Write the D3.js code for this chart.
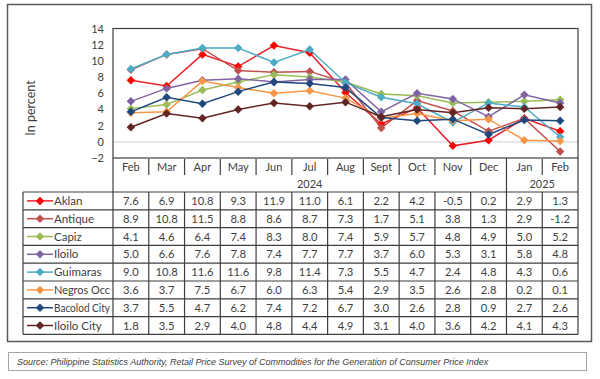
<!DOCTYPE html>
<html><head><meta charset="utf-8">
<script src="https://cdn.jsdelivr.net/npm/d3@7"></script>
<style>
html,body{margin:0;padding:0;background:#fff;}
svg{display:block;}
text{font-family:Lato,"Open Sans",sans-serif;fill:#404040;}
</style></head>
<body><svg id="c" width="600" height="379"></svg>
<script>
const months = ["Feb","Mar","Apr","May","Jun","Jul","Aug","Sept","Oct","Nov","Dec","Jan","Feb"];
const years = [{label:"2024", from:0, to:11},{label:"2025", from:11, to:13}];
const seriesNames = ["Aklan","Antique","Capiz","Iloilo","Guimaras","Negros Occ","Bacolod City","Iloilo City"];
const aklan      = [7.6,6.9,10.8,9.3,11.9,11.0,6.1,2.2,4.2,-0.5,0.2,2.9,1.3];
const antique    = [8.9,10.8,11.5,8.8,8.6,8.7,7.3,1.7,5.1,3.8,1.3,2.9,-1.2];
const capiz      = [4.1,4.6,6.4,7.4,8.3,8.0,7.4,5.9,5.7,4.8,4.9,5.0,5.2];
const iloilo     = [5.0,6.6,7.6,7.8,7.4,7.7,7.7,3.7,6.0,5.3,3.1,5.8,4.8];
const guimaras   = [9.0,10.8,11.6,11.6,9.8,11.4,7.3,5.5,4.7,2.4,4.8,4.3,0.6];
const negrosOcc  = [3.6,3.7,7.5,6.7,6.0,6.3,5.4,2.9,3.5,2.6,2.8,0.2,0.1];
const bacolod    = [3.7,5.5,4.7,6.2,7.4,7.2,6.7,3.0,2.6,2.8,0.9,2.7,2.6];
const iloiloCity = [1.8,3.5,2.9,4.0,4.8,4.4,4.9,3.1,4.0,3.6,4.2,4.1,4.3];
const seriesValues = [aklan,antique,capiz,iloilo,guimaras,negrosOcc,bacolod,iloiloCity];
const lineColors   = ["#e8202a","#c0504d","#9bbb59","#8064a2","#4bacc6","#f79646","#1f497d","#632523"];
const markerColors = ["#ff0000","#c0504d","#9bbb59","#8064a2","#4bacc6","#f79646","#1f497d","#632523"];
const yTicks = [-2,0,2,4,6,8,10,12,14];

const svg = d3.select("#c");
const L = 113, R = 578, T = 28.5, B = 158;
const monthRowB = 176, yearRowB = 192, rowH = 17.8;
const legL = 23;
const gridCol = "#3f3f3f";

svg.append("rect").attr("x",7.5).attr("y",4.5).attr("width",584).attr("height",337)
  .attr("fill","none").attr("stroke","#5a5a5a").attr("stroke-width",1.5);

const x = d3.scaleBand().domain(d3.range(months.length)).range([L,R]);
const y = d3.scaleLinear().domain([-2,14]).range([B,T]);

const yAxis = d3.axisLeft(y).tickValues(yTicks).tickSize(0).tickPadding(9);
const ya = svg.append("g").attr("transform",`translate(${L},0)`).call(yAxis);
ya.select(".domain").remove();
ya.selectAll("text").attr("font-size",11).attr("fill","#404040").style("font-family","Lato,sans-serif");

svg.append("text").attr("transform","translate(35,108) rotate(-90)")
  .attr("text-anchor","middle").attr("font-size",12.5).text("In percent");

svg.append("line").attr("x1",L).attr("x2",R).attr("y1",y(0)).attr("y2",y(0))
  .attr("stroke","#d9d9d9").attr("stroke-width",1.2);

const lineGen = d3.line().x((d,i)=>x(i)+x.bandwidth()/2).y(d=>y(d));
const diamond = d3.symbol().type(d3.symbolDiamond2).size(46);
seriesValues.forEach((vals,si)=>{
  svg.append("path").datum(vals).attr("d",lineGen).attr("fill","none")
    .attr("stroke",lineColors[si]).attr("stroke-width",1.5);
  svg.append("g").selectAll("path").data(vals).join("path")
    .attr("transform",(d,i)=>`translate(${x(i)+x.bandwidth()/2},${y(d)})`)
    .attr("d",diamond).attr("fill",markerColors[si]);
});

svg.append("rect").attr("x",L).attr("y",T).attr("width",R-L).attr("height",B-T)
  .attr("fill","none").attr("stroke",gridCol).attr("stroke-width",1.2);

const hdr = svg.append("g");
months.forEach((m,i)=>{
  hdr.append("text").attr("x",x(i)+x.bandwidth()/2).attr("y",(B+monthRowB)/2+4)
    .attr("text-anchor","middle").attr("font-size",11).text(m);
  if(i>0 && i!==11){
    hdr.append("line").attr("x1",x(i)).attr("x2",x(i)).attr("y1",B+1).attr("y2",monthRowB-1)
      .attr("stroke",gridCol).attr("stroke-width",1.2);
  }
});
years.forEach(yr=>{
  const x0 = x(yr.from), x1 = yr.to<months.length ? x(yr.to) : R;
  hdr.append("text").attr("x",(x0+x1)/2).attr("y",(monthRowB+yearRowB)/2+4)
    .attr("text-anchor","middle").attr("font-size",11).text(yr.label);
});
hdr.append("line").attr("x1",x(11)).attr("x2",x(11)).attr("y1",B).attr("y2",yearRowB)
  .attr("stroke",gridCol).attr("stroke-width",1.2);
hdr.append("line").attr("x1",L).attr("x2",L).attr("y1",B).attr("y2",yearRowB).attr("stroke",gridCol).attr("stroke-width",1.2);
hdr.append("line").attr("x1",R).attr("x2",R).attr("y1",B).attr("y2",yearRowB).attr("stroke",gridCol).attr("stroke-width",1.2);

const tb = svg.append("g");
const tTop = yearRowB, tBot = yearRowB + rowH*seriesNames.length;
seriesNames.forEach((name,si)=>{
  const ry = tTop + si*rowH, cy = ry + rowH/2;
  tb.append("line").attr("x1",27).attr("x2",53).attr("y1",cy).attr("y2",cy)
    .attr("stroke",lineColors[si]).attr("stroke-width",1.5);
  tb.append("path").attr("transform",`translate(40,${cy})`).attr("d",diamond).attr("fill",markerColors[si]);
  const t = tb.append("text").attr("x",54).attr("y",cy+4).attr("font-size",11.5).text(name);
  const w = t.node().getComputedTextLength();
  if(w>56) t.attr("textLength",56).attr("lengthAdjust","spacingAndGlyphs");
  seriesValues[si].forEach((v,i)=>{
    tb.append("text").attr("x",x(i)+x.bandwidth()/2).attr("y",cy+4)
      .attr("text-anchor","middle").attr("font-size",11.2).text(d3.format(".1f")(v).replace("−","-"));
  });
});
for(let k=0;k<=seriesNames.length;k++){
  const yy = tTop + k*rowH;
  tb.append("line").attr("x1",legL).attr("x2",R).attr("y1",yy).attr("y2",yy)
    .attr("stroke",gridCol).attr("stroke-width",1.2);
}
[legL, L].concat(d3.range(1,months.length).map(i=>x(i))).concat([R]).forEach(xx=>{
  tb.append("line").attr("x1",xx).attr("x2",xx).attr("y1",tTop).attr("y2",tBot)
    .attr("stroke",gridCol).attr("stroke-width",1.2);
});

svg.append("rect").attr("x",8.5).attr("y",352.5).attr("width",578).attr("height",18)
  .attr("fill","#fff").attr("stroke","#a6a6a6").attr("stroke-width",1);
svg.append("text").attr("x",17).attr("y",365).attr("font-size",9)
  .style("font-family","'Liberation Sans',Arial,sans-serif").style("font-style","italic").attr("fill","#222")
  .text("Source: Philippine Statistics Authority, Retail Price Survey of Commodities for the Generation of Consumer Price Index");
</script></body></html>
